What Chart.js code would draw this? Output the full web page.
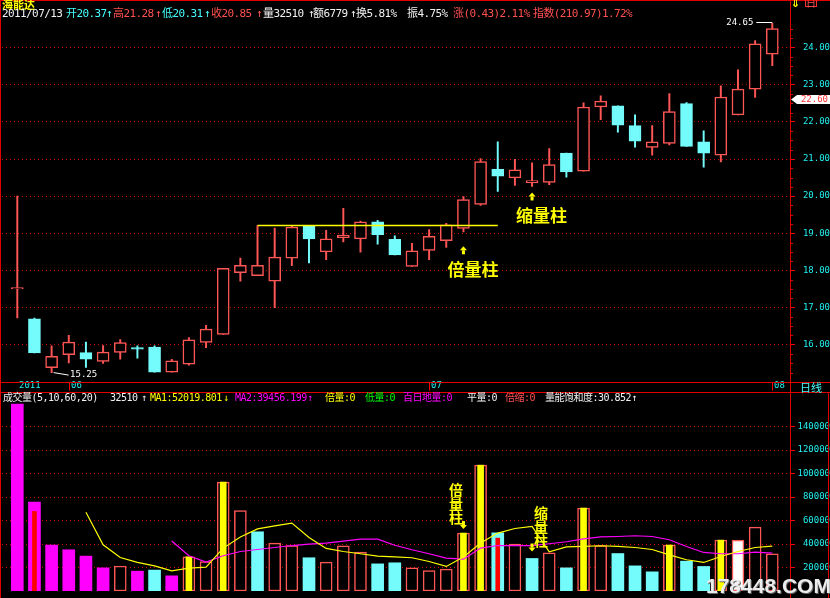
<!DOCTYPE html>
<html><head><meta charset="utf-8">
<script src="https://cdn.jsdelivr.net/npm/chart.js@4.4.1/dist/chart.umd.min.js"></script>
<style>
html,body{margin:0;padding:0;background:#000;}
#wrap{position:relative;width:830px;height:598px;overflow:hidden;background:#000;}
canvas{position:absolute;left:0;}
.t{position:absolute;white-space:pre;font-family:'DejaVu Sans Mono','Noto Sans CJK SC',monospace;}
.r1{font-size:11px;letter-spacing:-0.6px;top:8px;line-height:12px;}
.r2{font-size:10px;letter-spacing:-0.5px;top:393px;line-height:10px;}
.ln{position:absolute;background:#e00000;}
.w{color:#f2f2f2}.c{color:#44ffff}.r{color:#ff5050}.y{color:#ffff00}.m{color:#ff00ff}.g{color:#00ff00}
</style></head>
<body><div id="wrap">
<canvas id="price" width="830" height="392" style="top:0;width:830px;height:392px"></canvas>
<canvas id="vol" width="830" height="206" style="top:392px;width:830px;height:206px"></canvas>

<div class="ln" style="left:0;top:0;width:830px;height:1px"></div>
<div class="ln" style="left:0;top:0;width:1px;height:598px"></div>
<div class="ln" style="left:790px;top:0;width:1px;height:598px"></div>
<div class="ln" style="left:0;top:382px;width:830px;height:1px"></div>
<div class="ln" style="left:0;top:392px;width:830px;height:1px"></div>
<div class="ln" style="left:828px;top:392px;width:1px;height:206px"></div>

<div class="t y" style="left:2px;top:-4px;font:bold 11px 'Noto Sans CJK SC';">海能达</div>
<div class="t y" style="left:791px;top:-3px;font:bold 11px 'DejaVu Sans';">⇓</div>
<div class="t r" style="left:805px;top:-3px;font:10px 'Noto Sans CJK SC';border:1px solid #ff3030;line-height:9px;height:8px;">日</div>

<div class="t r1 w" style="left:2px">2011/07/13</div>
<div class="t r1 c" style="left:66px">开20.37</div>
<div class="t r1 c" style="left:106px">↑</div>
<div class="t r1 r" style="left:113px">高21.28</div>
<div class="t r1 r" style="left:155px">↑</div>
<div class="t r1 c" style="left:162px">低20.31</div>
<div class="t r1 c" style="left:204px">↑</div>
<div class="t r1 r" style="left:211px">收20.85</div>
<div class="t r1 r" style="left:256px">↑</div>
<div class="t r1 w" style="left:263px">量32510</div>
<div class="t r1 w" style="left:308px">↑</div>
<div class="t r1 w" style="left:313px">额6779</div>
<div class="t r1 w" style="left:350px">↑</div>
<div class="t r1 w" style="left:356px">换5.81%</div>
<div class="t r1 w" style="left:407px">振4.75%</div>
<div class="t r1 r" style="left:453px">涨(0.43)2.11%</div>
<div class="t r1 r" style="left:533px">指数(210.97)1.72%</div>

<div class="t c" style="left:800px;top:381px;font:11px 'Noto Sans CJK SC';line-height:12px;">日线</div>

<div class="t r2 w" style="left:3px">成交量(5,10,60,20)</div>
<div class="t r2 w" style="left:110px">32510</div>
<div class="t r2 w" style="left:141px">↑</div>
<div class="t r2 y" style="left:150px">MA1:52019.801</div>
<div class="t r2 y" style="left:223px">↓</div>
<div class="t r2 m" style="left:235px">MA2:39456.199</div>
<div class="t r2 m" style="left:307px">↑</div>
<div class="t r2 y" style="left:325px">倍量:0</div>
<div class="t r2 g" style="left:365px">低量:0</div>
<div class="t r2 m" style="left:403px">百日地量:0</div>
<div class="t r2 w" style="left:467px">平量:0</div>
<div class="t r2 r" style="left:505px">倍缩:0</div>
<div class="t r2 w" style="left:545px">量能饱和度:30.852↑</div>

<div class="t" style="left:706px;top:574px;font:bold 21px 'Liberation Sans';color:#ececec;text-shadow:1px 1px 0 #666;line-height:24px;">178448.COM</div>
</div>
<script>
// ---------- data ----------
const openP  = [17.50,16.70,15.38,15.73,15.79,15.55,15.79,15.89,15.94,15.26,15.48,16.06,16.28,17.94,17.86,17.71,18.33,19.19,18.50,18.88,18.85,19.31,18.84,18.11,18.54,18.80,19.13,19.78,20.72,20.49,20.36,20.37,21.16,20.67,22.40,22.43,21.90,21.31,21.42,22.49,21.46,21.10,22.19,22.88,23.82];
const highP  = [20.00,16.72,15.97,16.25,16.07,15.98,16.14,15.97,15.97,15.61,16.19,16.52,18.06,18.33,19.21,19.14,19.20,19.20,19.08,19.67,19.33,19.35,18.93,18.73,19.10,19.27,19.99,21.01,21.46,20.99,20.90,21.28,21.16,22.51,22.70,22.43,22.19,21.90,22.76,22.52,21.76,22.97,23.40,24.19,24.65];
const lowP   = [16.72,15.78,15.25,15.51,15.39,15.50,15.61,15.64,15.26,15.26,15.45,15.92,16.28,17.71,17.86,17.00,18.13,18.20,18.29,18.77,18.49,18.71,18.42,18.11,18.29,18.62,19.04,19.75,20.13,20.29,20.26,20.31,20.51,20.67,22.06,21.72,21.32,21.10,21.38,21.34,20.78,20.92,22.19,22.66,23.51];
const closeP = [17.54,15.78,15.69,16.07,15.61,15.80,16.06,15.88,15.26,15.57,16.13,16.42,18.06,18.14,18.14,18.36,19.17,18.85,18.85,18.95,19.31,18.96,18.42,18.53,18.92,19.23,19.91,20.93,20.54,20.71,20.42,20.85,20.65,22.40,22.56,21.91,21.48,21.46,22.28,21.34,21.16,22.67,22.88,24.10,24.51];

const volume = [159000,75700,39100,35100,29700,19700,21200,16900,17800,12900,29100,25100,92700,68500,50400,40800,38700,28300,24600,38500,33100,23100,24000,19700,17400,18600,49300,107100,49500,39900,27700,32510,19700,70600,38700,31900,21400,16300,39100,25400,20900,43300,43300,54400,31700];
const volType = ['M','M','M','M','M','M','R','M','C','M','Y','R','Y','R','C','R','R','C','R','R','R','C','C','R','R','R','Y','Y','C','R','C','R','C','Y','R','C','C','C','Y','C','C','Y','W','R','R'];
const redInnerIdx = [1, 28];
const redInnerVol = [67700, 45000];
const volMA5 = [null,null,null,null,67100,39300,28500,24300,21400,17200,19500,20300,36500,45900,52900,55500,57800,45500,36200,33600,31700,29700,29100,28300,25100,20900,28900,40800,49300,53200,54900,33400,37600,37900,38500,37900,37000,35300,30800,26600,24300,29400,33600,37000,38200];
const volMA10 = [null,null,null,null,null,null,null,null,null,42500,30000,24600,30000,33600,35300,37000,38700,39900,40800,42500,44200,44200,38900,35100,31700,28000,27100,36500,38700,38700,38700,40200,41900,44400,46100,46400,47000,46400,43600,37900,32800,31700,31700,33100,32300];

const priceTicks = [16,17,18,19,20,21,22,23,24];
const volTicks = [20000,40000,60000,80000,100000,120000,140000];
const dateTickIndex = [0, 3, 24, 44];
const dateTickLabels = ['2011','06','07','08'];

const resistIdx = [14, 28];
const resistPrice = 19.21;
const cursorPrice = 22.60;

const priceAnnIdx = [26, 30];
const priceAnnLevel = [18.65, 20.10];
const priceAnnText = ['倍量柱','缩量柱'];
const volAnnIdx = [26, 30];
const volAnnLevel = [52700, 33600];
const volAnnText = ['倍量柱','缩量柱'];
const volAnnDx = [-7.5, 9];

// ---------- styles ----------
const RED = '#ff5656', CYAN = '#74fbfb', MAG = '#ff00ff', YEL = '#ffff00';
const GRID = '#c80000';
const X_MIN = -0.8916, X_MAX = 45.0315;
const P_MIN = 15.0346, P_MAX = 24.742;
const idx = openP.map((_, i) => i);
const isUp = i => closeP[i] >= openP[i];
const monoFont = "'DejaVu Sans Mono', monospace";

function upArrow(ctx, x, y) {
  ctx.beginPath(); ctx.moveTo(x, y); ctx.lineTo(x - 3.5, y + 4); ctx.lineTo(x + 3.5, y + 4); ctx.closePath(); ctx.fill();
  ctx.fillRect(x - 1.5, y + 4, 3, 4);
}
function downArrow(ctx, x, y) {
  ctx.beginPath(); ctx.moveTo(x, y); ctx.lineTo(x - 3.5, y - 4); ctx.lineTo(x + 3.5, y - 4); ctx.closePath(); ctx.fill();
  ctx.fillRect(x - 1.5, y - 8, 3, 4);
}

const priceExtras = {
  id: 'priceExtras',
  afterDraw(chart) {
    const {ctx, chartArea: ca, scales: {x, y}} = chart;
    ctx.save();
    ctx.strokeStyle = '#e00000'; ctx.lineWidth = 1;
    for (let v = 15.25; v < P_MAX; v += 0.25) {
      if (Math.abs(v - Math.round(v)) < 1e-6) continue;
      const py = Math.round(y.getPixelForValue(v)) + 0.5;
      ctx.beginPath(); ctx.moveTo(ca.right + 1, py); ctx.lineTo(ca.right + 3, py); ctx.stroke();
    }
    ctx.font = '9px ' + monoFont; ctx.textBaseline = 'middle'; ctx.textAlign = 'left';
    dateTickIndex.forEach((i, k) => {
      const px = Math.round(x.getPixelForValue(i));
      if (k > 0) {
        ctx.strokeStyle = '#ff0000';
        ctx.beginPath(); ctx.moveTo(px + 0.5, ca.bottom + 2); ctx.lineTo(px + 0.5, ca.bottom + 10); ctx.stroke();
      }
      ctx.fillStyle = '#22f0f0';
      ctx.fillText(dateTickLabels[k], px + 2, ca.bottom + 5.5);
    });
    let hi = 0, lo = 0;
    idx.forEach(i => { if (highP[i] > highP[hi]) hi = i; if (lowP[i] < lowP[lo]) lo = i; });
    ctx.strokeStyle = '#ffffff'; ctx.fillStyle = '#ffffff';
    const hx = x.getPixelForValue(hi), hy = y.getPixelForValue(highP[hi]);
    ctx.beginPath(); ctx.moveTo(hx - 16, Math.round(hy) - 0.5); ctx.lineTo(hx, Math.round(hy) - 0.5); ctx.stroke();
    ctx.textAlign = 'right'; ctx.fillText(highP[hi].toFixed(2), hx - 19, hy - 1);
    const lx = x.getPixelForValue(lo), ly = y.getPixelForValue(lowP[lo]);
    ctx.beginPath(); ctx.moveTo(lx + 2, ly); ctx.lineTo(lx + 17, ly + 2.5); ctx.stroke();
    ctx.textAlign = 'left'; ctx.fillText(lowP[lo].toFixed(2), lx + 18.5, ly + 2);
    const cy = y.getPixelForValue(cursorPrice);
    ctx.fillStyle = '#ffffff';
    ctx.beginPath(); ctx.moveTo(ca.right + 1, cy); ctx.lineTo(ca.right + 7, cy - 4.5); ctx.lineTo(830, cy - 4.5);
    ctx.lineTo(830, cy + 4.5); ctx.lineTo(ca.right + 7, cy + 4.5); ctx.closePath(); ctx.fill();
    ctx.fillStyle = '#ff3030'; ctx.textAlign = 'right';
    ctx.fillText(cursorPrice.toFixed(2), 828, cy + 0.5);
    ctx.fillStyle = YEL;
    ctx.font = "bold 17px 'Noto Sans CJK SC'"; ctx.textBaseline = 'top'; ctx.textAlign = 'left';
    priceAnnIdx.forEach((i, k) => {
      const ax = x.getPixelForValue(i), ay = y.getPixelForValue(priceAnnLevel[k]);
      upArrow(ctx, ax, ay);
      ctx.fillText(priceAnnText[k], ax - 16, ay + 15);
    });
    ctx.restore();
  }
};

const volExtras = {
  id: 'volExtras',
  afterDraw(chart) {
    const {ctx, scales: {x, y}} = chart;
    ctx.save();
    ctx.fillStyle = YEL;
    ctx.font = "bold 14px 'Noto Sans CJK SC'"; ctx.textBaseline = 'middle'; ctx.textAlign = 'center';
    volAnnIdx.forEach((i, k) => {
      const ax = x.getPixelForValue(i), ay = y.getPixelForValue(volAnnLevel[k]);
      downArrow(ctx, ax, ay);
      const chars = Array.from(volAnnText[k]);
      chars.forEach((ch, j) => {
        ctx.fillText(ch, ax + volAnnDx[k], ay - 11 - 14 * (chars.length - 1 - j));
      });
    });
    ctx.restore();
  }
};

const commonX = {type: 'linear', min: X_MIN, max: X_MAX, offset: false, display: false};
const axisTicks = (pad, fmt) => ({color: '#22f0f0', font: {family: monoFont, size: 9}, crossAlign: 'far', padding: pad, callback: fmt});
const axisGrid = {color: GRID, lineWidth: 1, drawTicks: true, tickLength: 5, tickColor: '#ff0000', tickWidth: 1, borderDash: [1, 3]};

new Chart(document.getElementById('price'), {
  type: 'bar',
  data: {datasets: [
    {type: 'line', data: resistIdx.map(i => ({x: i, y: resistPrice})), borderColor: YEL, borderWidth: 1.6, pointRadius: 0, order: 0},
    {data: idx.map(i => ({x: i, y: [openP[i], closeP[i]]})),
     backgroundColor: idx.map(i => isUp(i) ? '#000000' : CYAN),
     borderColor: idx.map(i => isUp(i) ? RED : CYAN),
     borderWidth: 1.5, borderSkipped: false, barThickness: 12, minBarLength: 1.5, grouped: false, order: 1},
    {data: idx.map(i => ({x: i, y: [lowP[i], highP[i]]})),
     backgroundColor: idx.map(i => isUp(i) ? RED : CYAN),
     borderWidth: 0, barThickness: 1.3, grouped: false, order: 2}
  ]},
  options: {
    responsive: false, animation: false, devicePixelRatio: 1,
    layout: {padding: {left: 2, top: 20, right: 0, bottom: 10}},
    plugins: {legend: {display: false}, tooltip: {enabled: false}},
    scales: {
      x: commonX,
      y: {position: 'right', min: P_MIN, max: P_MAX,
          afterBuildTicks: s => { s.ticks = priceTicks.map(v => ({value: v})); },
          afterFit: s => { s.width = 40; },
          ticks: axisTicks(6, v => Number(v).toFixed(2)),
          grid: axisGrid, border: {display: false, dash: [1, 3]}}
    }
  },
  plugins: [priceExtras]
});

const volStyle = {
  M: {bg: MAG, bd: MAG, bw: 0},
  C: {bg: CYAN, bd: CYAN, bw: 0},
  R: {bg: '#000000', bd: RED, bw: 1.5},
  Y: {bg: '#000000', bd: RED, bw: 1.5},
  W: {bg: '#ffffff', bd: RED, bw: 1.5}
};

new Chart(document.getElementById('vol'), {
  type: 'bar',
  data: {datasets: [
    {type: 'line', data: idx.map(i => ({x: i, y: volMA5[i]})), borderColor: YEL, borderWidth: 1.2, pointRadius: 0, order: 0},
    {type: 'line', data: idx.map(i => ({x: i, y: volMA10[i]})), borderColor: MAG, borderWidth: 1.2, pointRadius: 0, order: 0},
    {data: idx.filter(i => volType[i] === 'Y').map(i => ({x: i, y: volume[i]})),
     backgroundColor: YEL, borderWidth: 0, barThickness: 6, grouped: false, order: 1},
    {data: redInnerIdx.map((i, k) => ({x: i, y: redInnerVol[k]})),
     backgroundColor: '#ff0000', borderWidth: 0, barThickness: 4, grouped: false, order: 1},
    {data: idx.map(i => ({x: i, y: volume[i]})),
     backgroundColor: idx.map(i => volStyle[volType[i]].bg),
     borderColor: idx.map(i => volStyle[volType[i]].bd),
     borderWidth: idx.map(i => volStyle[volType[i]].bw),
     borderSkipped: false, barThickness: 12, grouped: false, order: 2}
  ]},
  options: {
    responsive: false, animation: false, devicePixelRatio: 1,
    layout: {padding: {left: 2, top: 11, right: 0, bottom: 7}},
    plugins: {legend: {display: false}, tooltip: {enabled: false}},
    scales: {
      x: commonX,
      y: {position: 'right', min: 0, max: 160000,
          afterBuildTicks: s => { s.ticks = volTicks.map(v => ({value: v})); },
          afterFit: s => { s.width = 40; },
          ticks: axisTicks(0.5, v => String(v)),
          grid: axisGrid, border: {display: false, dash: [1, 3]}}
    }
  },
  plugins: [volExtras]
});
</script>
</body></html>
